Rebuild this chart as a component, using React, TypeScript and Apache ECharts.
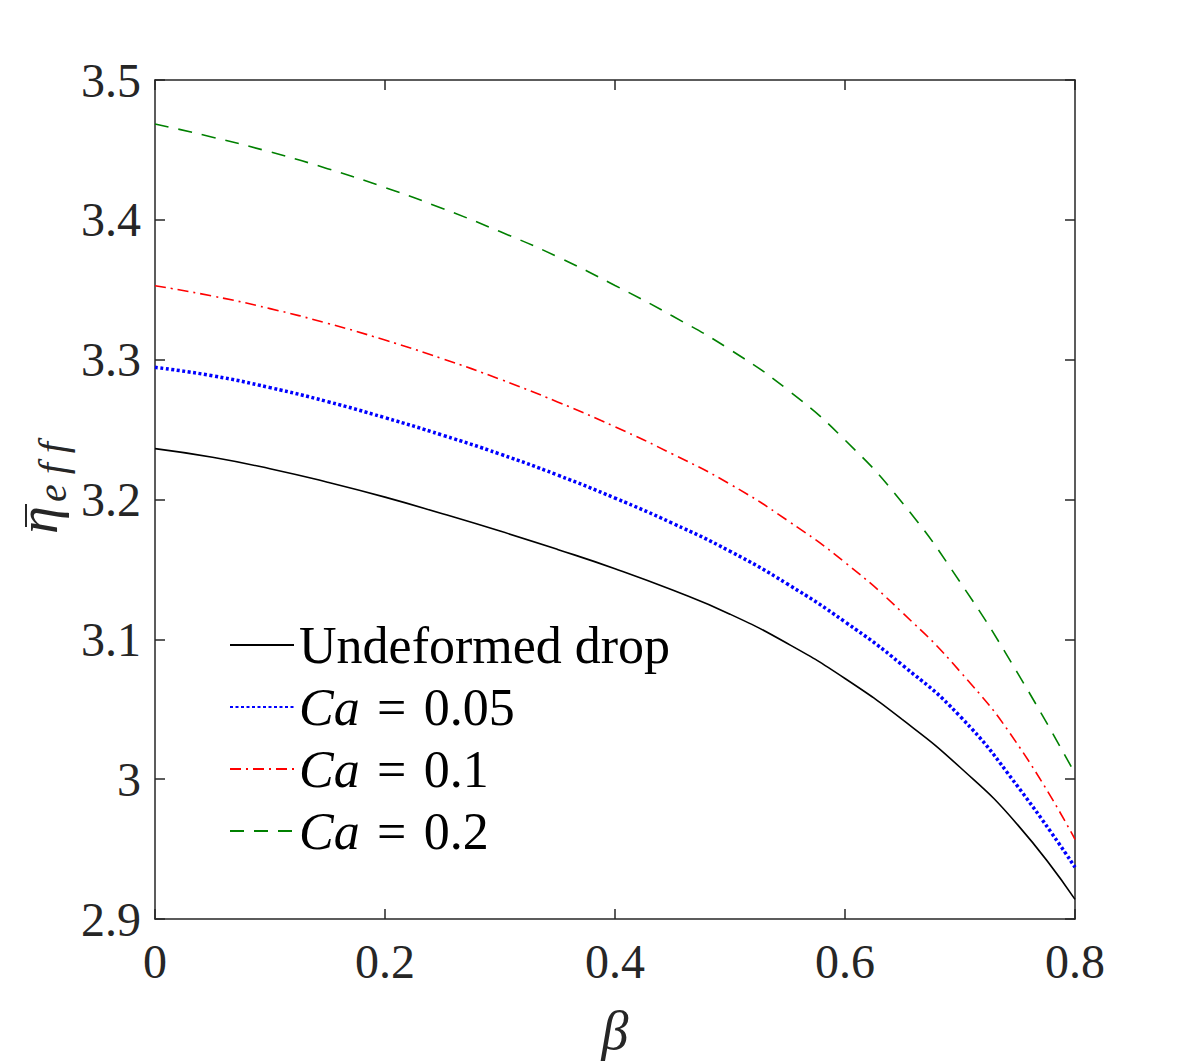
import React, { useEffect, useRef } from "react";
import * as echarts from "echarts";

const beta = [0, 0.05, 0.1, 0.15, 0.2, 0.25, 0.3, 0.35, 0.4, 0.45, 0.5, 0.55, 0.6, 0.65, 0.7, 0.75, 0.8];
const undeformed = [3.2364, 3.2302, 3.222, 3.2124, 3.2017, 3.1898, 3.1774, 3.1643, 3.1505, 3.1352, 3.118, 3.097, 3.072, 3.0425, 3.0085, 2.9675, 2.914];
const ca005 = [3.2945, 3.2885, 3.28, 3.27, 3.2585, 3.246, 3.2325, 3.2175, 3.201, 3.183, 3.163, 3.1395, 3.1125, 3.0815, 3.045, 2.995, 2.937];
const ca01 = [3.3529, 3.3455, 3.3365, 3.326, 3.314, 3.3007, 3.286, 3.2698, 3.252, 3.2325, 3.211, 3.185, 3.155, 3.119, 3.077, 3.025, 2.957];
const ca02 = [3.4686, 3.4591, 3.4486, 3.4366, 3.4231, 3.4081, 3.3916, 3.3736, 3.3531, 3.3312, 3.3072, 3.2785, 3.2425, 3.1975, 3.141, 3.076, 3.004];

const seriesNames = ["Undeformed drop", "Ca = 0.05", "Ca = 0.1", "Ca = 0.2"];
const xTicks = { min: 0, max: 0.8, step: 0.2 };
const yTicks = { min: 2.9, max: 3.5, step: 0.1 };

const FONT = "'Liberation Serif', 'DejaVu Serif', serif";
const AX = "#262626";

function pairs(xs: number[], ys: number[]) {
  return xs.map((x, i) => [x, ys[i]]);
}

export default function App() {
  const ref = useRef<HTMLDivElement>(null);
  useEffect(() => {
    if (!ref.current) return;
    const chart = echarts.init(ref.current, undefined, { renderer: "svg" });
    const fmt = (v: number) => String(parseFloat(v.toFixed(2)));
    const axisCommon = {
      axisLine: { show: true, onZero: false, lineStyle: { color: AX, width: 1.5 } },
      axisTick: { show: true, inside: true, length: 10, lineStyle: { color: AX, width: 1.5 } },
      splitLine: { show: false },
    };
    const lineSeries = (name: string, ys: number[], color: string, width: number, type: any) => ({
      name,
      type: "line",
      data: pairs(beta, ys),
      smooth: 0.5,
      symbol: "none",
      lineStyle: { color, width, type },
      itemStyle: { color },
    });
    const option: any = {
      animation: false,
      backgroundColor: "#ffffff",
      grid: { left: 155, right: 113, top: 80, bottom: 143, containLabel: false },
      xAxis: [
        {
          type: "value",
          min: xTicks.min,
          max: xTicks.max,
          interval: xTicks.step,
          position: "bottom",
          ...axisCommon,
          axisLabel: { fontFamily: FONT, fontSize: 48, color: AX, margin: 18, formatter: fmt },
          name: "β",
          nameLocation: "middle",
          nameGap: 85,
          nameTextStyle: { fontFamily: FONT, fontSize: 54, fontStyle: "italic", color: AX },
        },
        {
          type: "value",
          min: xTicks.min,
          max: xTicks.max,
          interval: xTicks.step,
          position: "top",
          ...axisCommon,
          axisLabel: { show: false },
        },
      ],
      yAxis: [
        {
          type: "value",
          min: yTicks.min,
          max: yTicks.max,
          interval: yTicks.step,
          position: "left",
          ...axisCommon,
          axisLabel: { fontFamily: FONT, fontSize: 48, color: AX, margin: 14, formatter: fmt },
        },
        {
          type: "value",
          min: yTicks.min,
          max: yTicks.max,
          interval: yTicks.step,
          position: "right",
          ...axisCommon,
          axisLabel: { show: false },
        },
      ],
      graphic: [
        {
          type: "group",
          x: 38,
          y: 534,
          rotation: Math.PI / 2,
          children: [
            {
              type: "text",
              x: 0,
              y: 0,
              style: {
                text: "η",
                fontFamily: FONT,
                fontSize: 56,
                fontStyle: "italic",
                fill: AX,
                align: "left",
                verticalAlign: "middle",
              },
            },
            {
              type: "line",
              shape: { x1: 7, y1: -12, x2: 30, y2: -12 },
              style: { stroke: AX, lineWidth: 2 },
            },
            {
              type: "text",
              x: 32,
              y: 14,
              style: {
                text: "e f f",
                fontFamily: FONT,
                fontSize: 40,
                fontStyle: "italic",
                fill: AX,
                align: "left",
                verticalAlign: "middle",
              },
            },
          ],
        },
      ],
      legend: {
        orient: "vertical",
        left: 224,
        top: 614,
        itemWidth: 64,
        itemHeight: 16,
        itemGap: 10,
        itemStyle: { opacity: 0 },
        data: seriesNames,
        formatter: (name: string) => {
          if (name.startsWith("Ca")) return "{i|Ca} \u200A= \u200A" + name.slice(5);
          return name;
        },
        textStyle: {
          fontFamily: FONT,
          fontSize: 52,
          color: "#000",
          lineHeight: 51,
          rich: {
            i: { fontFamily: FONT, fontSize: 52, fontStyle: "italic", color: "#000", lineHeight: 51 },
          },
        },
      },
      series: [
        lineSeries(seriesNames[0], undeformed, "#000000", 1.6, "solid"),
        lineSeries(seriesNames[1], ca005, "#0000ff", 3.5, [3, 2.5]),
        lineSeries(seriesNames[2], ca01, "#ff0000", 1.6, [11, 5, 2, 5]),
        lineSeries(seriesNames[3], ca02, "#008000", 1.6, [14, 10]),
      ],
    };
    chart.setOption(option);
    return () => chart.dispose();
  }, []);
  return (
    <div
      ref={ref}
      style={{ position: "fixed", left: 0, top: 0, width: 1188, height: 1063, background: "#fff" }}
    />
  );
}
